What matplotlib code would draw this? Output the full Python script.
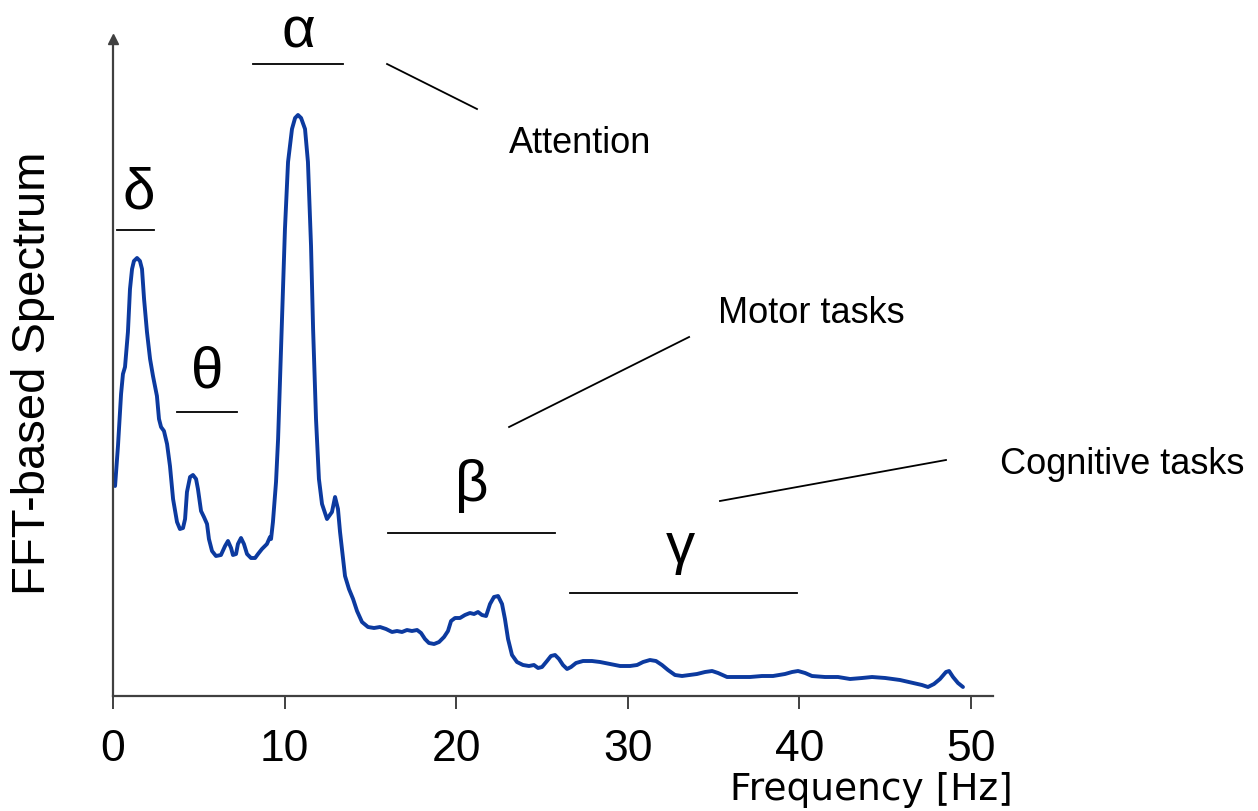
import matplotlib
matplotlib.use("Agg")
import matplotlib.pyplot as plt

# spectrum (frequency in Hz, amplitude in arbitrary units)
freq = [0.12, 0.29, 0.47, 0.58, 0.70, 0.87, 0.99, 1.11, 1.22, 1.40, 1.57, 1.69, 1.81, 1.98,
        2.16, 2.33, 2.56, 2.68, 2.80, 2.97, 3.15, 3.32, 3.50, 3.73, 3.90, 4.08, 4.20, 4.31,
        4.49, 4.66, 4.84, 4.95, 5.13, 5.30, 5.48, 5.59, 5.77, 6.00, 6.29, 6.53, 6.70, 6.88,
        6.99, 7.17, 7.28, 7.46, 7.63, 7.81, 8.04, 8.28, 8.45, 8.68, 8.97, 9.15, 9.21, 9.32,
        9.50, 9.62, 9.73, 9.85, 10.02, 10.20, 10.43, 10.61, 10.78, 10.96, 11.19, 11.36, 11.54,
        11.66, 11.83, 12.00, 12.18, 12.47, 12.76, 12.94, 13.11, 13.23, 13.52, 13.75, 13.99,
        14.22, 14.51, 14.86, 15.21, 15.56, 15.91, 16.26, 16.55, 16.84, 17.13, 17.42, 17.72,
        17.95, 18.18, 18.41, 18.71, 19.00, 19.29, 19.52, 19.70, 19.93, 20.22, 20.51, 20.80,
        21.04, 21.27, 21.50, 21.74, 21.97, 22.20, 22.44, 22.67, 22.84, 23.02, 23.25, 23.54,
        23.89, 24.24, 24.53, 24.77, 25.00, 25.29, 25.52, 25.76, 25.99, 26.22, 26.46, 26.69,
        26.98, 27.39, 27.91, 28.38, 28.96, 29.55, 30.13, 30.54, 30.89, 31.29, 31.64, 31.99,
        32.34, 32.75, 33.16, 33.62, 34.03, 34.50, 34.91, 35.26, 35.78, 36.42, 37.12, 37.82,
        38.46, 39.16, 39.57, 39.92, 40.33, 40.73, 41.49, 42.25, 42.95, 43.65, 44.23, 45.00,
        45.86, 46.62, 47.14, 47.49, 47.84, 48.19, 48.54, 48.72, 48.95, 49.24, 49.53]
spectrum = [2.10, 2.50, 3.02, 3.22, 3.29, 3.64, 4.07, 4.27, 4.35, 4.38, 4.35, 4.27, 3.97, 3.64,
            3.37, 3.20, 3.00, 2.77, 2.69, 2.65, 2.52, 2.30, 1.97, 1.74, 1.67, 1.68, 1.77, 2.04,
            2.19, 2.21, 2.17, 2.07, 1.85, 1.79, 1.72, 1.57, 1.45, 1.40, 1.41, 1.50, 1.55, 1.48,
            1.41, 1.42, 1.52, 1.58, 1.52, 1.42, 1.38, 1.38, 1.42, 1.47, 1.52, 1.59, 1.57, 1.74,
            2.14, 2.57, 3.14, 3.77, 4.67, 5.34, 5.67, 5.78, 5.81, 5.78, 5.67, 5.34, 4.50,
            3.67, 2.77, 2.17, 1.92, 1.77, 1.84, 1.99, 1.87, 1.64, 1.20, 1.07, 0.97,
            0.85, 0.74, 0.69, 0.68, 0.69, 0.67, 0.64, 0.65, 0.64, 0.66, 0.65, 0.66,
            0.63, 0.57, 0.53, 0.52, 0.54, 0.59, 0.65, 0.75, 0.78, 0.78, 0.81, 0.83,
            0.82, 0.84, 0.81, 0.80, 0.92, 0.99, 1.00, 0.92, 0.77, 0.57, 0.41, 0.34,
            0.31, 0.30, 0.31, 0.28, 0.29, 0.35, 0.40, 0.41, 0.37, 0.31, 0.27, 0.29,
            0.33, 0.35, 0.35, 0.34, 0.32, 0.30, 0.30, 0.31, 0.34, 0.36, 0.35, 0.31,
            0.26, 0.21, 0.20, 0.21, 0.22, 0.24, 0.25, 0.23, 0.19, 0.19, 0.19, 0.20,
            0.20, 0.22, 0.24, 0.25, 0.23, 0.20, 0.19, 0.19, 0.17, 0.18, 0.19, 0.18,
            0.16, 0.13, 0.11, 0.09, 0.12, 0.17, 0.24, 0.25, 0.19, 0.13, 0.09]

# EEG bands: symbol, start and end of the bar (Hz)
band_names = ["δ", "θ", "α", "β", "γ"]
band_lo = [0.23, 3.73, 8.16, 16.03, 26.63]
band_hi = [2.39, 7.23, 13.40, 25.76, 39.86]

tasks = ["Attention", "Motor tasks", "Cognitive tasks"]
xtick_vals = [0, 10, 20, 30, 40, 50]

W, H = 1258, 812
fig = plt.figure(figsize=(W / 100, H / 100), dpi=100)
ax = fig.add_axes([113 / W, 115 / H, 880 / W, 657 / H])

ax.plot(freq, spectrum, color="#0C3A9F", lw=2.8, solid_joinstyle="round", solid_capstyle="round")
ax.set_xlim(0, 51.28)
ax.set_ylim(0, 6.57)

for s in ["top", "right"]:
    ax.spines[s].set_visible(False)
for s in ["left", "bottom"]:
    ax.spines[s].set_color("#404040")
    ax.spines[s].set_linewidth(1.6)
# arrow head on the y axis
ax.plot([0], [1], marker="^", ms=7, color="#404040", transform=ax.transAxes, clip_on=False)

ax.set_yticks([])
ax.set_xticks(xtick_vals)
ax.set_xticklabels([str(v) for v in xtick_vals],
                   fontfamily=["Liberation Sans Narrow", "Liberation Sans"], fontsize=32)
ax.tick_params(axis="x", direction="out", length=9, width=1.4, color="#404040", pad=14)

fig.text(871 / W, 1 - 790 / H, "Frequency [Hz]", ha="center", va="center",
         fontsize=27, family="DejaVu Sans")
fig.text(33 / W, 1 - 373 / H, "FFT-based Spectrum", rotation=90, ha="center", va="center",
         fontsize=34, family="Liberation Sans")

# band bars and greek symbols
bar_y = [4.66, 2.84, 6.32, 1.63, 1.03]
sym_xy = [(1.52, 4.89), (5.48, 3.09), (10.78, 6.50), (20.92, 1.96), (33.04, 1.34)]
for name, lo, hi, by, (sx, sy) in zip(band_names, band_lo, band_hi, bar_y, sym_xy):
    ax.plot([lo, hi], [by, by], color="black", lw=1.3, clip_on=False)
    ax.text(sx, sy, name, ha="center", va="baseline", fontsize=42, family="Liberation Sans")

# task labels with leader lines
task_xy = [(27.21, 5.44), (40.68, 3.74), (58.80, 2.23)]
leaders = [((15.97, 21.21), (6.32, 5.87)),
           ((23.08, 33.57), (2.69, 3.59)),
           ((35.37, 48.54), (1.95, 2.36))]
for t, (tx, ty), (lx, ly) in zip(tasks, task_xy, leaders):
    ax.plot(lx, ly, color="black", lw=1.3, clip_on=False)
    ax.text(tx, ty, t, ha="center", va="baseline", fontsize=26, family="Liberation Sans")

fig.savefig("out.png", dpi=100)
